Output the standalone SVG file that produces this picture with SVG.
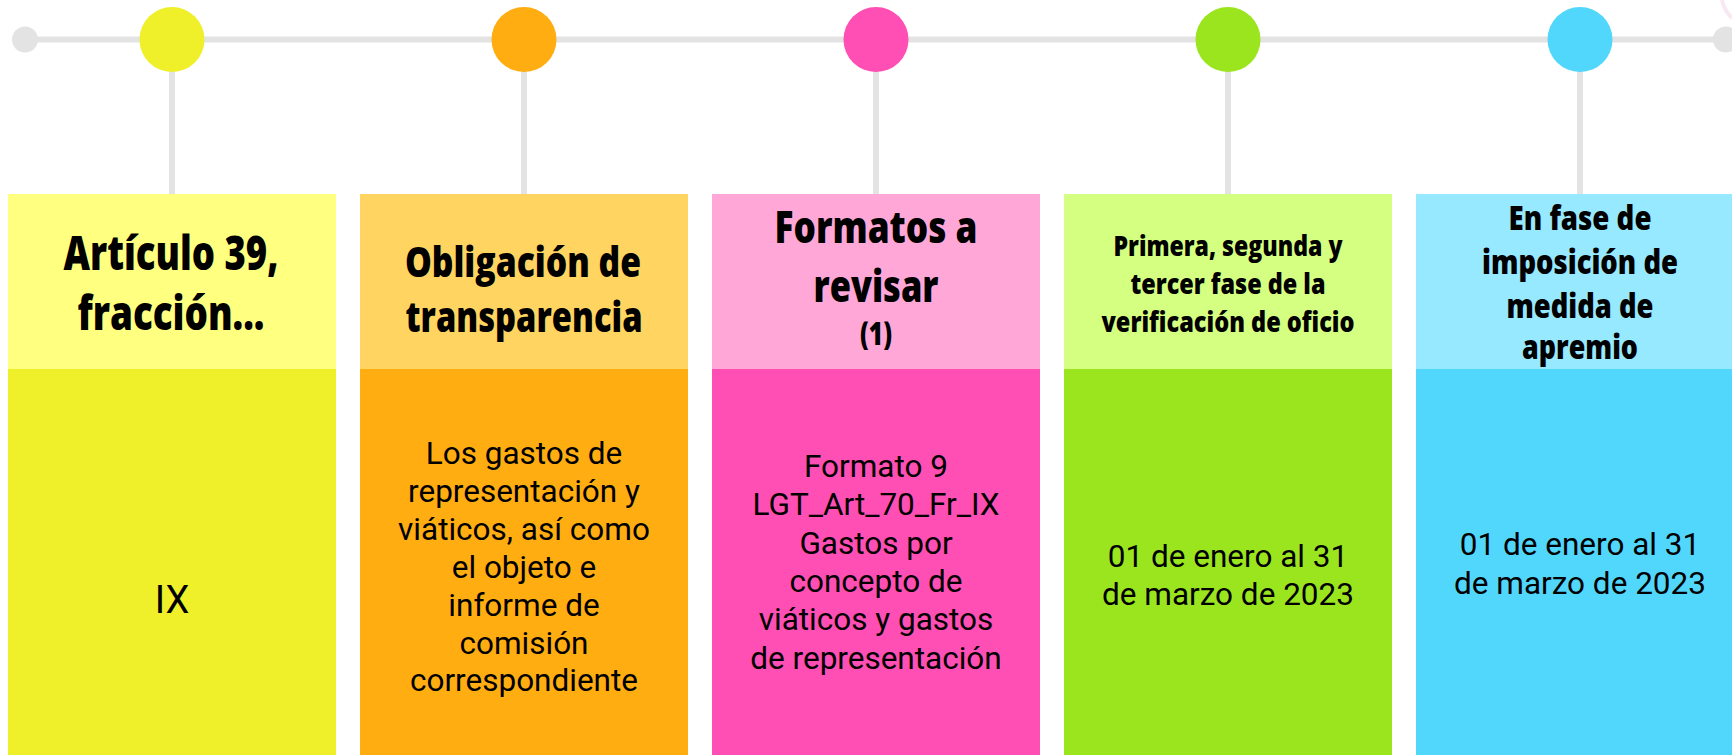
<svg xmlns="http://www.w3.org/2000/svg" width="1732" height="755" viewBox="0 0 1732 755">
<style>
.line{stroke:#E3E3E3;stroke-width:6;fill:none}
.dot{fill:#E3E3E3}
.hd{font-family:"Open Sans","Liberation Sans",sans-serif;font-weight:800;fill:#000;text-anchor:middle}
.bd{font-family:Roboto,"Liberation Sans",sans-serif;font-weight:400;fill:#000;text-anchor:middle;font-size:31.5px}
</style>
<rect width="1732" height="755" fill="#FFFFFF"/>
<g id="connectors">
<line class="line" x1="25" y1="39.5" x2="1726" y2="39.5"/>
<line class="line" x1="172" y1="39.5" x2="172" y2="194"/>
<line class="line" x1="524" y1="39.5" x2="524" y2="194"/>
<line class="line" x1="876" y1="39.5" x2="876" y2="194"/>
<line class="line" x1="1228" y1="39.5" x2="1228" y2="194"/>
<line class="line" x1="1580" y1="39.5" x2="1580" y2="194"/>
<circle class="dot" cx="25" cy="39.5" r="13"/>
<circle class="dot" cx="1726" cy="39.5" r="13"/>
<path d="M1722,0 Q1724,10 1732,18" stroke="#F8E8F1" stroke-width="4" fill="none"/>
</g>
<g id="node1">
<circle cx="172" cy="39.5" r="32.5" fill="#EFEF2A"/>
<rect x="8" y="194" width="328" height="175" fill="#FFFF80"/>
<rect x="8" y="369" width="328" height="386" fill="#EFEF2A"/>
<text class="hd" font-size="48"><tspan x="171" y="270" textLength="215" lengthAdjust="spacingAndGlyphs">Artículo 39,</tspan><tspan x="171" y="330" textLength="187" lengthAdjust="spacingAndGlyphs">fracción...</tspan></text>
<text class="bd" x="172" y="613" style="font-size:38px">IX</text>
</g>
<g id="node2">
<circle cx="524" cy="39.5" r="32.5" fill="#FFAD10"/>
<rect x="360" y="194" width="328" height="175" fill="#FFD460"/>
<rect x="360" y="369" width="328" height="386" fill="#FFAD10"/>
<text class="hd" font-size="43"><tspan x="523" y="277" textLength="236" lengthAdjust="spacingAndGlyphs">Obligación de</tspan><tspan x="524" y="332" textLength="237" lengthAdjust="spacingAndGlyphs">transparencia</tspan></text>
<text class="bd"><tspan x="524" y="463.5">Los gastos de</tspan><tspan x="524" y="501.5">representación y</tspan><tspan x="524" y="539.5">viáticos, así como</tspan><tspan x="524" y="577.5">el objeto e</tspan><tspan x="524" y="615.5">informe de</tspan><tspan x="524" y="653.5">comisión</tspan><tspan x="524" y="691">correspondiente</tspan></text>
</g>
<g id="node3">
<circle cx="876" cy="39.5" r="32.5" fill="#FF4FB4"/>
<rect x="712" y="194" width="328" height="175" fill="#FFA8D8"/>
<rect x="712" y="369" width="328" height="386" fill="#FF4FB4"/>
<text class="hd" font-size="44"><tspan x="876" y="243" textLength="203" lengthAdjust="spacingAndGlyphs">Formatos a</tspan><tspan x="876" y="302" textLength="125" lengthAdjust="spacingAndGlyphs">revisar</tspan></text>
<text class="hd" font-size="32" x="876" y="345" textLength="32" lengthAdjust="spacingAndGlyphs">(1)</text>
<text class="bd"><tspan x="876" y="477">Formato 9</tspan><tspan x="876" y="515">LGT_Art_70_Fr_IX</tspan><tspan x="876" y="553.5">Gastos por</tspan><tspan x="876" y="592">concepto de</tspan><tspan x="876" y="630">viáticos y gastos</tspan><tspan x="876" y="668.5">de representación</tspan></text>
</g>
<g id="node4">
<circle cx="1228" cy="39.5" r="32.5" fill="#9BE51F"/>
<rect x="1064" y="194" width="328" height="175" fill="#D4FF80"/>
<rect x="1064" y="369" width="328" height="386" fill="#9BE51F"/>
<text class="hd" font-size="28"><tspan x="1228" y="256" textLength="229" lengthAdjust="spacingAndGlyphs">Primera, segunda y</tspan><tspan x="1228" y="294" textLength="195" lengthAdjust="spacingAndGlyphs">tercer fase de la</tspan><tspan x="1228" y="332" textLength="253" lengthAdjust="spacingAndGlyphs">verificación de oficio</tspan></text>
<text class="bd"><tspan x="1228" y="567">01 de enero al 31</tspan><tspan x="1228" y="605">de marzo de 2023</tspan></text>
</g>
<g id="node5">
<circle cx="1580" cy="39.5" r="32.5" fill="#52D7FC"/>
<rect x="1416" y="194" width="328" height="175" fill="#96E9FF"/>
<rect x="1416" y="369" width="328" height="386" fill="#52D7FC"/>
<text class="hd" font-size="33"><tspan x="1580" y="230" textLength="143" lengthAdjust="spacingAndGlyphs">En fase de</tspan><tspan x="1580" y="274" textLength="196" lengthAdjust="spacingAndGlyphs">imposición de</tspan><tspan x="1580" y="318" textLength="147" lengthAdjust="spacingAndGlyphs">medida de</tspan><tspan x="1580" y="359" textLength="116" lengthAdjust="spacingAndGlyphs">apremio</tspan></text>
<text class="bd"><tspan x="1580" y="555">01 de enero al 31</tspan><tspan x="1580" y="593.5">de marzo de 2023</tspan></text>
</g>
</svg>
